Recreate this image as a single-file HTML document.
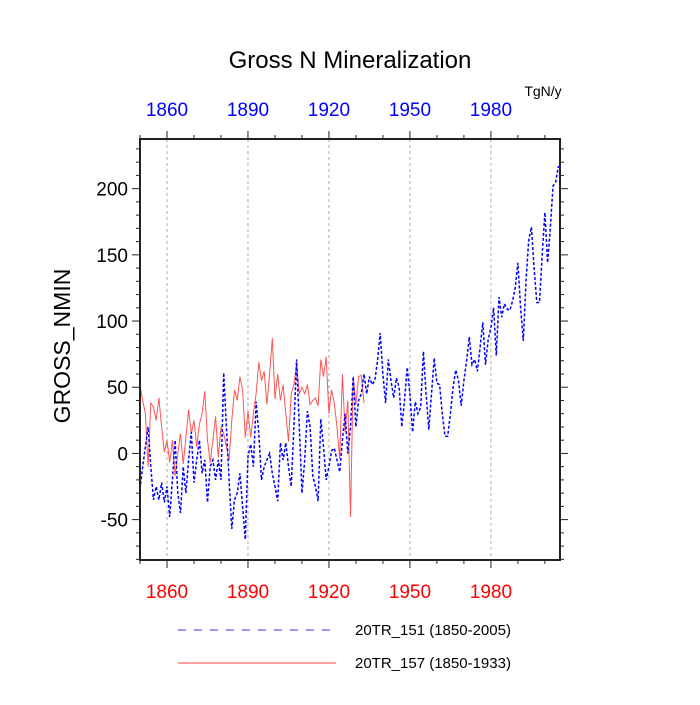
<!DOCTYPE html>
<html><head><meta charset="utf-8"><style>
body{margin:0;background:#fff;}
svg text{font-family:"Liberation Sans",sans-serif;}
</style></head><body>
<svg id="chart" width="700" height="700">
<text x="350" y="68" font-size="24" text-anchor="middle">Gross N Mineralization</text>
<text x="543" y="96" font-size="14" text-anchor="middle">TgN/y</text>
<text transform="translate(70,346) rotate(-90)" font-size="23" text-anchor="middle">GROSS_NMIN</text>
<g id="grid"></g><g id="series"></g><g id="axes"></g>
<g>
<line x1="178" y1="630" x2="336" y2="630" stroke="#00f" stroke-width="1" stroke-dasharray="8,8" opacity="0.8"/>
<text x="355" y="635" font-size="15">20TR_151 (1850-2005)</text>
<line x1="178" y1="663" x2="336" y2="663" stroke="#f44" stroke-width="1"/>
<text x="355" y="668" font-size="15">20TR_157 (1850-1933)</text>
</g>
</svg>
<script>
const blueStart = 1850;
const blueValues = [-27,-10,5,20,-10,-35,-25,-35,-22,-37,-25,-48,-20,10,-30,-45,-10,-30,-5,16,-22,-5,10,-15,-5,-37,-10,-5,-20,-5,-20,61,20,-20,-57,-35,-30,-15,-40,-65,-2,7,-10,39,15,-20,-10,-5,0,-15,-25,-36,8,-5,8,-10,-25,20,71,20,-30,-5,32,20,-17,-25,-36,26,5,-20,-10,2,4,-5,-14,10,30,0,20,58,20,40,45,60,45,58,52,55,70,91,60,38,71,55,42,57,50,20,40,65,45,16,39,30,35,77,45,18,45,72,53,52,30,13,13,30,50,63,55,36,55,70,88,67,71,62,80,99,67,86,95,110,74,118,103,113,109,108,115,125,144,110,85,130,161,171,140,114,114,150,182,144,170,202,205,217];
const redStart = 1850;
const redValues = [51,40,30,-10,38,35,25,42,20,1,10,-7,10,-17,0,15,-8,12,33,15,25,5,22,30,47,10,-7,10,28,-3,20,15,5,-5,25,48,40,58,48,12,32,12,30,45,69,55,62,37,60,87,41,60,40,52,30,9,45,52,68,45,50,45,52,37,40,42,36,71,58,73,30,48,38,20,-4,60,16,40,-48,58,37,58,59,38];
const xTicks = [1860,1890,1920,1950,1980];
const yTicks = [-50,0,50,100,150,200];
const L=140,R=560,T=139,B=560,X0=1850,X1=2005.6,Y0=-80.5,Y1=237.5;
const sx=v=>L+(v-X0)/(X1-X0)*(R-L);
const sy=v=>B-(v-Y0)/(Y1-Y0)*(B-T);
const NS='http://www.w3.org/2000/svg';
function mk(tag,attrs,parent){const e=document.createElementNS(NS,tag);for(const k in attrs)e.setAttribute(k,attrs[k]);parent.appendChild(e);return e;}
const grid=document.getElementById('grid'),ser=document.getElementById('series'),ax=document.getElementById('axes');
xTicks.forEach(t=>{const g=mk('line',{x1:sx(t),x2:sx(t),y1:T,y2:B,stroke:'#aaa','stroke-dasharray':'3,3','stroke-width':1},grid);

});
function path(start,vals,attrs,name){const d=vals.map((v,i)=>(i?'L':'M')+sx(start+i).toFixed(1)+','+sy(v).toFixed(1)).join('');
const p=mk('path',Object.assign({d:d,fill:'none'},attrs),ser);

}
path(redStart,redValues,{stroke:'#f55','stroke-width':1},'series-20tr-157');
path(blueStart,blueValues,{stroke:'#00f','stroke-width':1.5,'stroke-dasharray':'3,2'},'series-20tr-151');
const fr=mk('rect',{x:L,y:T,width:R-L,height:B-T,fill:'none',stroke:'#222','stroke-width':2},ax);


for(let y=1850;y<=2005;y+=10){const maj=xTicks.includes(y);const len=maj?8:4;
const a=mk('line',{x1:sx(y),x2:sx(y),y1:B,y2:B+len,stroke:'#222','stroke-width':1},ax);


const b=mk('line',{x1:sx(y),x2:sx(y),y1:T,y2:T-len,stroke:'#222','stroke-width':1},ax);

}
xTicks.forEach(t=>{const a=mk('text',{x:sx(t),y:598,'font-size':19,fill:'#f00','text-anchor':'middle'},ax);a.textContent=t;


const b=mk('text',{x:sx(t),y:116,'font-size':19,fill:'#00f','text-anchor':'middle'},ax);b.textContent=t;

});
for(let v=-80;v<=230;v+=10){const maj=yTicks.includes(v);const len=maj?8:4;
const a=mk('line',{x1:L,x2:L-len,y1:sy(v),y2:sy(v),stroke:'#222','stroke-width':1},ax);


const b=mk('line',{x1:R,x2:R+len,y1:sy(v),y2:sy(v),stroke:'#222','stroke-width':1},ax);

}
yTicks.forEach(t=>{const a=mk('text',{x:128,y:sy(t)+7,'font-size':19,'text-anchor':'end'},ax);a.textContent=t;

});
</script>
</body></html>
